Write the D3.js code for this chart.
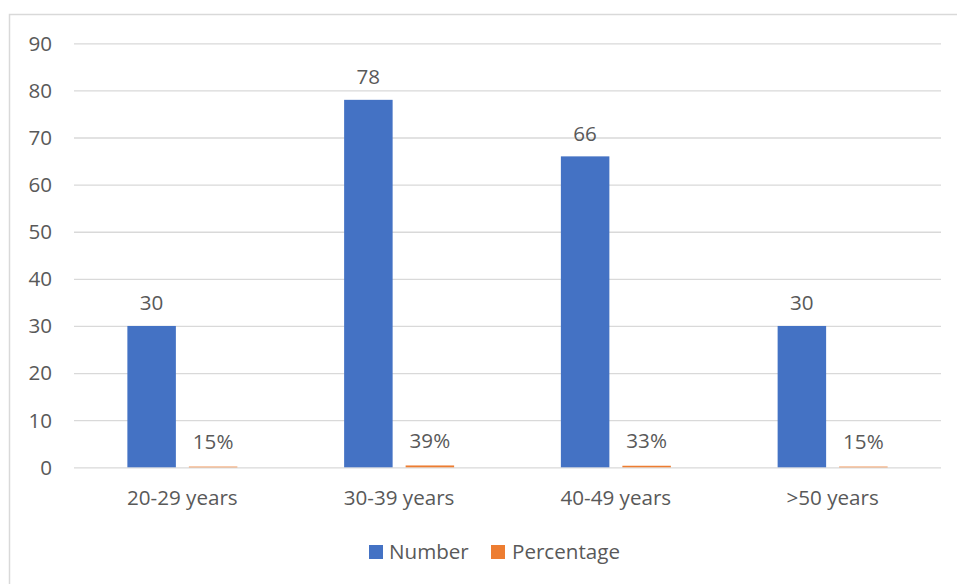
<!DOCTYPE html>
<html>
<head>
<meta charset="utf-8">
<script src="https://cdn.jsdelivr.net/npm/d3@7"></script>
<style>
  html, body { margin: 0; padding: 0; background: #fff; }
  svg text { font-family: "Open Sans", Lato, "Noto Sans", sans-serif; fill: #595959; }
</style>
</head>
<body>
<svg id="chart" width="957" height="584"></svg>
<script>
// Age groups and their counts / shares
const categories = ["20-29 years", "30-39 years", "40-49 years", ">50 years"];
const numberValues = [30, 78, 66, 30];
const percentageValues = [0.15, 0.39, 0.33, 0.15];
const percentageLabels = ["15%", "39%", "33%", "15%"];
const seriesNames = ["Number", "Percentage"];
const yTicks = [0, 10, 20, 30, 40, 50, 60, 70, 80, 90];

const colors = { Number: "#4472C4", Percentage: "#ED7D31" };
const fontSize = 20.6;

const svg = d3.select("#chart");

// outer chart frame
svg.append("rect")
  .attr("x", 9.5).attr("y", 14.5)
  .attr("width", 960).attr("height", 600)
  .attr("fill", "none").attr("stroke", "#d9d9d9").attr("stroke-width", 1.5);

const plot = { left: 74, right: 941, top: 43.3, bottom: 467.3 };

const x = d3.scaleBand().domain(categories).range([plot.left, plot.right]).paddingInner(0).paddingOuter(0);
const y = d3.scaleLinear().domain([0, 90]).range([plot.bottom, plot.top]);

// gridlines
svg.append("g").selectAll("line").data(yTicks).join("line")
  .attr("x1", plot.left).attr("x2", plot.right)
  .attr("y1", d => y(d) + 0.5).attr("y2", d => y(d) + 0.5)
  .attr("stroke", "#d9d9d9").attr("stroke-width", 1.3);

// y tick labels
svg.append("g").selectAll("text").data(yTicks).join("text")
  .attr("x", 52).attr("y", d => y(d))
  .attr("dy", "0.36em")
  .attr("text-anchor", "end")
  .attr("font-size", fontSize)
  .text(d => d);

// bars: two series side by side with a small gap between them
const barW = 48.5, gap = 13;
const offset = {
  Number: -gap / 2 - barW,
  Percentage: gap / 2
};

const rows = categories.map((c, i) => ({
  cat: c,
  Number: numberValues[i],
  Percentage: percentageValues[i],
  pctLabel: percentageLabels[i]
}));

const center = c => x(c) + x.bandwidth() / 2;

seriesNames.forEach(s => {
  svg.append("g").selectAll("rect").data(rows).join("rect")
    .attr("x", d => center(d.cat) + offset[s])
    .attr("y", d => y(d[s]))
    .attr("width", barW)
    .attr("height", d => y(0) - y(d[s]))
    .attr("fill", colors[s]);
});

// value labels
svg.append("g").selectAll("text").data(rows).join("text")
  .attr("x", d => center(d.cat) + offset.Number + barW / 2)
  .attr("y", d => y(d.Number) - 23)
  .attr("dy", "0.36em")
  .attr("text-anchor", "middle")
  .attr("font-size", fontSize)
  .text(d => d.Number);

svg.append("g").selectAll("text").data(rows).join("text")
  .attr("x", d => center(d.cat) + offset.Percentage + barW / 2)
  .attr("y", d => y(d.Percentage) - 25)
  .attr("dy", "0.36em")
  .attr("text-anchor", "middle")
  .attr("font-size", fontSize)
  .text(d => d.pctLabel);

// category labels
svg.append("g").selectAll("text").data(categories).join("text")
  .attr("x", d => center(d))
  .attr("y", 498)
  .attr("dy", "0.36em")
  .attr("text-anchor", "middle")
  .attr("font-size", fontSize)
  .text(d => d);

// legend
const legend = svg.append("g");
const legendItems = [
  { name: "Number", sx: 369, tx: 389 },
  { name: "Percentage", sx: 491, tx: 512 }
];
legendItems.forEach(it => {
  legend.append("rect")
    .attr("x", it.sx).attr("y", 545)
    .attr("width", 14).attr("height", 14)
    .attr("fill", colors[it.name]);
  legend.append("text")
    .attr("x", it.tx).attr("y", 552)
    .attr("dy", "0.36em")
    .attr("font-size", fontSize)
    .text(it.name);
});
</script>
</body>
</html>
